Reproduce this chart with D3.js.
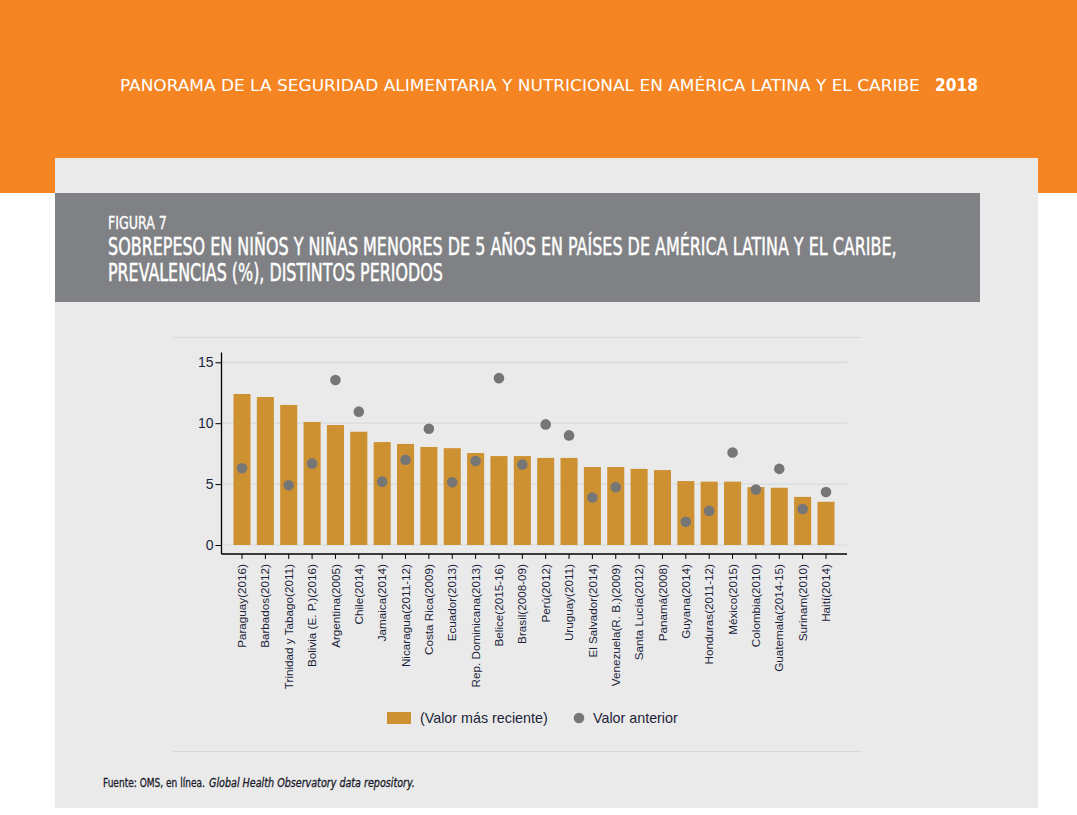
<!DOCTYPE html>
<html><head><meta charset="utf-8">
<script src="https://cdn.jsdelivr.net/npm/d3@7"></script>
<style>html,body{margin:0;padding:0;background:#fff}svg{display:block}</style>
</head><body>
<script>
const categories = ["Paraguay(2016)","Barbados(2012)","Trinidad y Tabago(2011)","Bolivia (E. P.)(2016)","Argentina(2005)","Chile(2014)","Jamaica(2014)","Nicaragua(2011-12)","Costa Rica(2009)","Ecuador(2013)","Rep. Dominicana(2013)","Belice(2015-16)","Brasil(2008-09)","Perú(2012)","Uruguay(2011)","El Salvador(2014)","Venezuela(R. B.)(2009)","Santa Lucía(2012)","Panamá(2008)","Guyana(2014)","Honduras(2011-12)","México(2015)","Colombia(2010)","Guatemala(2014-15)","Surinam(2010)","Haití(2014)"];
const recentValues = [12.4,12.15,11.5,10.1,9.85,9.3,8.45,8.3,8.05,7.95,7.55,7.3,7.3,7.15,7.15,6.4,6.4,6.25,6.15,5.25,5.2,5.2,4.75,4.7,3.95,3.55];
const previousValues = [6.3,null,4.9,6.7,13.55,10.95,5.2,7.0,9.55,5.15,6.9,13.7,6.6,9.9,9.0,3.9,4.75,null,null,1.9,2.8,7.6,4.55,6.25,2.95,4.35];
const yTicks = [0,5,10,15];
const legendLabels = ["(Valor más reciente)","Valor anterior"];
const headerText = "PANORAMA DE LA SEGURIDAD ALIMENTARIA Y NUTRICIONAL EN AMÉRICA LATINA Y EL CARIBE";
const headerYear = "2018";
const figLabel = "FIGURA 7";
const titleLines = ["SOBREPESO EN NIÑOS Y NIÑAS MENORES DE 5 AÑOS EN PAÍSES DE AMÉRICA LATINA Y EL CARIBE,","PREVALENCIAS (%), DISTINTOS PERIODOS"];
const sourceParts = ["Fuente: OMS, en línea.","Global Health Observatory data repository."];

const W=1077,H=815;
const svg=d3.select("body").append("svg").attr("width",W).attr("height",H);
const cond="'DejaVu Sans Condensed','DejaVu Sans',sans-serif";

// horizontally fit a text to a target width using a scale transform
function fitText(str,x,y,w,opts){
  const t=svg.append("text").attr("x",0).attr("y",0).attr("font-family",cond)
    .attr("font-size",opts.size).attr("fill",opts.fill||"#fff");
  if(opts.weight) t.attr("font-weight",opts.weight);
  if(opts.italic) t.attr("font-style","italic");
  if(opts.stroke) t.attr("stroke",opts.fill||"#fff").attr("stroke-width",opts.stroke);
  t.text(str);
  const nat=t.node().getComputedTextLength();
  t.attr("transform",`translate(${x},${y}) scale(${w/nat},1)`);
  return t;
}

// background blocks
svg.append("rect").attr("x",0).attr("y",0).attr("width",W).attr("height",193).attr("fill","#f58422");
svg.append("rect").attr("x",55).attr("y",158).attr("width",983).attr("height",650).attr("fill","#eaeaea");
svg.append("rect").attr("x",55).attr("y",193).attr("width",925).attr("height",109).attr("fill","#808184");

// header
fitText(headerText,120,91,800,{size:16.5});
fitText(headerYear,935,91,43,{size:17,weight:"bold"});

// title
fitText(figLabel,108,229,59,{size:18,stroke:0.35});
fitText(titleLines[0],108,255,789,{size:24,stroke:0.45});
fitText(titleLines[1],108,281,335,{size:24,stroke:0.45});

// frame lines
[337.5,751.5].forEach(y=>svg.append("line").attr("x1",173).attr("x2",862).attr("y1",y).attr("y2",y)
  .attr("stroke","#d4dbdb").attr("stroke-width",1));

// scales
const step=23.36;
const x=d3.scaleBand().domain(categories).range([242-step/2, 826+step/2]).paddingInner(0.27).paddingOuter(0.135);
const y=d3.scaleLinear().domain([0,15]).range([545,362.3]);
const axX0=221.5, axX1=847, axY=554;

const g=svg.append("g");
// gridlines
g.selectAll("line.grid").data(yTicks).enter().append("line")
  .attr("x1",axX0).attr("x2",axX1).attr("y1",d=>y(d)).attr("y2",d=>y(d))
  .attr("stroke","#d4dbdb").attr("stroke-width",1.2);

// bars
g.selectAll("rect.bar").data(categories).enter().append("rect")
  .attr("x",d=>x(d)).attr("width",x.bandwidth())
  .attr("y",(d,i)=>y(recentValues[i])).attr("height",(d,i)=>y(0)-y(recentValues[i]))
  .attr("fill","#cd9131");

// dots
g.selectAll("circle.prev").data(categories.map((c,i)=>({c,v:previousValues[i]})).filter(d=>d.v!=null))
  .enter().append("circle").attr("cx",d=>x(d.c)+x.bandwidth()/2).attr("cy",d=>y(d.v)).attr("r",5.3)
  .attr("fill","#767676");

// y axis
const yAxis=d3.axisLeft(y).tickValues(yTicks).tickSize(6).tickPadding(2).tickFormat(d3.format("d"));
const ya=svg.append("g").attr("transform",`translate(${axX0},0)`).call(yAxis);
ya.select(".domain").remove();
ya.append("line").attr("x1",0).attr("x2",0).attr("y1",352.5).attr("y2",axY).attr("stroke","#000").attr("stroke-width",1.3);
ya.selectAll(".tick line").attr("stroke","#000");
ya.selectAll(".tick text").attr("font-family","'Liberation Sans',Arial,sans-serif").attr("font-size",14).attr("fill","#1c1f3a");

// x axis
const xAxis=d3.axisBottom(x).tickSize(5).tickPadding(4);
const xa=svg.append("g").attr("transform",`translate(0,${axY})`).call(xAxis);
xa.select(".domain").remove();
xa.append("line").attr("x1",axX0).attr("x2",axX1).attr("y1",0).attr("y2",0).attr("stroke","#000").attr("stroke-width",1.3);
xa.selectAll(".tick line").attr("stroke","#000");
xa.selectAll(".tick text").attr("font-family","'Liberation Sans',Arial,sans-serif").attr("font-size",11.7).attr("fill","#1c1f3a")
  .attr("transform","rotate(-90)").attr("text-anchor","end").attr("dy","0.35em").attr("x",-10).attr("y",0);

// legend
svg.append("rect").attr("x",387).attr("y",712).attr("width",24).attr("height",12).attr("fill","#cd9131");
svg.append("text").attr("x",420).attr("y",723).attr("font-family","'Liberation Sans',Arial,sans-serif").attr("font-size",14.3).attr("fill","#1c1f3a").text(legendLabels[0]);
svg.append("circle").attr("cx",579).attr("cy",718).attr("r",5.3).attr("fill","#767676");
svg.append("text").attr("x",593).attr("y",723).attr("font-family","'Liberation Sans',Arial,sans-serif").attr("font-size",14.3).attr("fill","#1c1f3a").text(legendLabels[1]);

// source
fitText(sourceParts[0],103,787,102,{size:12.5,fill:"#1a1a2a",stroke:0.3});
fitText(sourceParts[1],209,787,206,{size:12.5,fill:"#1a1a2a",stroke:0.3,italic:true});
</script>
</body></html>
